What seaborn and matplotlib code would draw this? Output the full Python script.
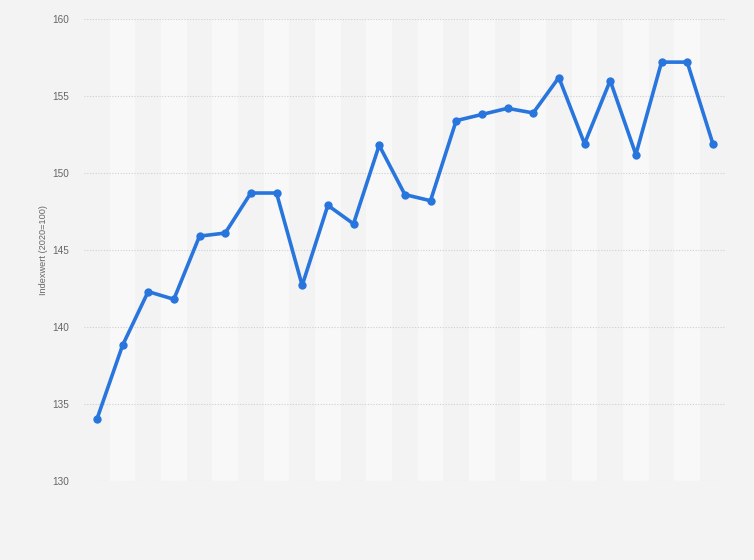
import matplotlib
matplotlib.use("Agg")
import matplotlib.pyplot as plt
import seaborn as sns
import pandas as pd

periods = list(range(25))
values = [134.0, 138.8, 142.3, 141.8, 145.9, 146.1, 148.7, 148.7, 142.7, 147.9,
          146.7, 151.8, 148.6, 148.2, 153.4, 153.8, 154.2, 153.9, 156.2, 151.9,
          156.0, 151.2, 157.2, 157.2, 151.9]
y_ticks = [130, 135, 140, 145, 150, 155, 160]
y_label = "Indexwert (2020=100)"

df = pd.DataFrame({"period": periods, "value": values})

sns.set_style("white")
plt.rcParams['font.family'] = ['Liberation Sans', 'DejaVu Sans']

fig = plt.figure(figsize=(7.54, 5.6), dpi=100)
fig.patch.set_facecolor("#f3f3f3")
ax = fig.add_axes([84/754, 1 - 481/560, (725.7 - 84)/754, (481 - 19)/560])
ax.set_facecolor("#f3f3f3")

for i in periods:
    if i % 2 == 1:
        ax.axvspan(i - 0.5, i + 0.5, color="#f8f8f8", zorder=0, lw=0)

sns.lineplot(data=df, x="period", y="value", ax=ax, color="#2876dd",
             linewidth=2.6, marker="o", markersize=6, markeredgewidth=0, zorder=3)

ax.set_xlim(-0.5, len(periods) - 0.5)
ax.set_ylim(130, 160)
ax.set_yticks(y_ticks)
ax.set_yticklabels([str(t) for t in y_ticks], color="#666666", fontsize=7.2)
ax.set_xticks([])
ax.set_xlabel("")
ax.set_ylabel(y_label, color="#666666", fontsize=6.6, labelpad=3)
ax.tick_params(axis="y", length=0, pad=11)
ax.grid(axis="y", color="#cfcfcf", linestyle=(0, (1, 1.5)), linewidth=0.8, zorder=1)
ax.set_axisbelow(True)
for s in ax.spines.values():
    s.set_visible(False)

fig.savefig("out.png", dpi=100, facecolor=fig.get_facecolor())
